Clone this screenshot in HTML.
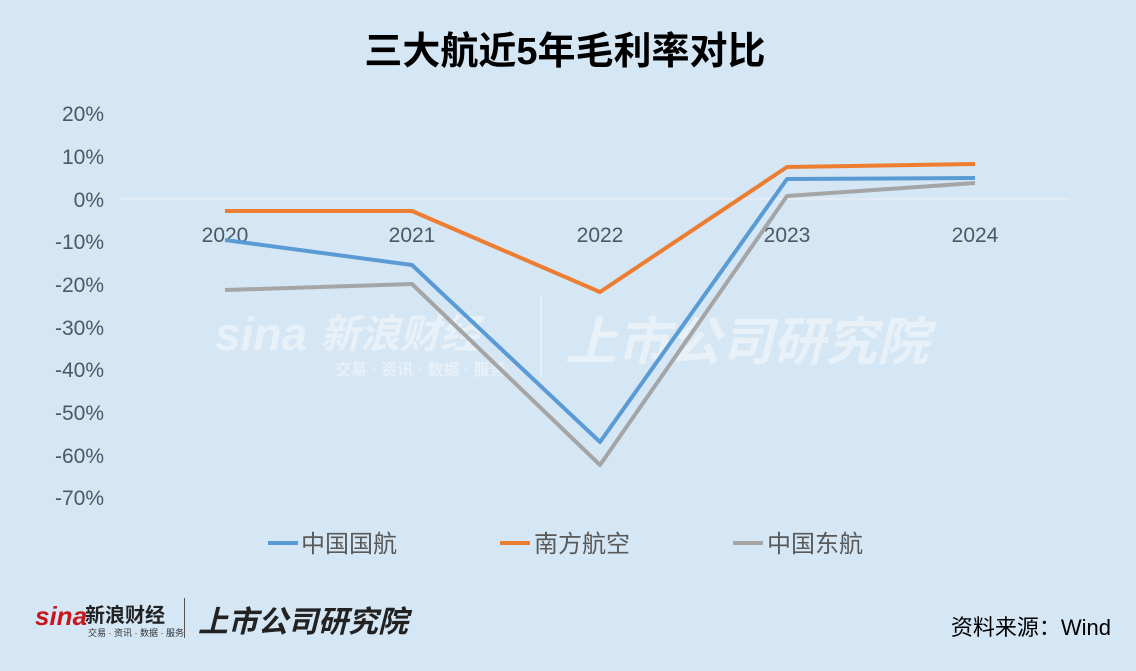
<!DOCTYPE html>
<html><head><meta charset="utf-8"><style>
body{margin:0;width:1136px;height:671px;background:#d5e6f4;overflow:hidden;font-family:"Liberation Sans","Noto Sans CJK SC",sans-serif}
</style></head><body>
<svg width="1136" height="671" xmlns="http://www.w3.org/2000/svg" style="position:absolute;left:0;top:0">
<rect width="1136" height="671" fill="#d5e6f4"/>
<text x="565" y="64" text-anchor="middle" font-size="38" font-weight="bold" fill="#000" font-family="Liberation Sans,Noto Sans CJK SC,sans-serif">三大航近5年毛利率对比</text>
<g font-size="21" fill="#4a5868" text-anchor="end" font-family="Liberation Sans,sans-serif">
<text x="104" y="121">20%</text><text x="104" y="164">10%</text><text x="104" y="207">0%</text>
<text x="104" y="249">-10%</text><text x="104" y="292">-20%</text><text x="104" y="335">-30%</text>
<text x="104" y="377">-40%</text><text x="104" y="420">-50%</text><text x="104" y="463">-60%</text><text x="104" y="505">-70%</text>
</g>
<line x1="120" y1="199" x2="1070" y2="199" stroke="#e8eef5" stroke-width="1.5"/>
<g font-size="21" fill="#4a5868" text-anchor="middle" font-family="Liberation Sans,sans-serif">
<text x="225" y="242">2020</text><text x="412" y="242">2021</text><text x="600" y="242">2022</text><text x="787" y="242">2023</text><text x="975" y="242">2024</text>
</g>
<g opacity="0.45" fill="#fff" font-family="Liberation Sans,Noto Sans CJK SC,sans-serif" font-weight="bold" font-style="italic">
<text x="215" y="350" font-size="46">sina</text>
<text x="320" y="348" font-size="40">新浪财经</text>
<text x="335" y="375" font-size="16" font-style="normal">交易 · 资讯 · 数据 · 服务</text>
<rect x="540" y="295" width="2" height="80"/>
<text x="565" y="360" font-size="52">上市公司研究院</text>
</g>
<g fill="none" stroke-width="4" stroke-linejoin="round">
<polyline stroke="#a5a5a5" points="225,290 412,284 600,465 787,196 975,183"/>
<polyline stroke="#5b9bd5" points="225,240 412,265 600,442 787,179 975,178"/>
<polyline stroke="#ed7d31" points="225,211 412,211 600,292 787,167 975,164"/>
</g>
<g font-size="24" fill="#595959" font-family="Liberation Sans,Noto Sans CJK SC,sans-serif">
<line x1="268" y1="543" x2="298" y2="543" stroke="#5b9bd5" stroke-width="4"/><text x="301" y="552">中国国航</text>
<line x1="500" y1="543" x2="530" y2="543" stroke="#ed7d31" stroke-width="4"/><text x="534" y="552">南方航空</text>
<line x1="733" y1="543" x2="763" y2="543" stroke="#a5a5a5" stroke-width="4"/><text x="767" y="552">中国东航</text>
</g>
<g font-family="Liberation Sans,Noto Sans CJK SC,sans-serif">
<text x="35" y="625" font-size="26" font-weight="bold" font-style="italic" fill="#c8161d">sina</text>
<text x="85" y="622" font-size="20" font-weight="bold" fill="#222">新浪财经</text>
<text x="88" y="636" font-size="9" fill="#333">交易 · 资讯 · 数据 · 服务</text>
<rect x="184" y="598" width="1" height="40" fill="#555"/>
<text x="198" y="632" font-size="30" font-weight="bold" font-style="italic" fill="#222">上市公司研究院</text>
<text x="1111" y="635" font-size="22" fill="#000" text-anchor="end">资料来源：Wind</text>
</g>
</svg>
</body></html>
